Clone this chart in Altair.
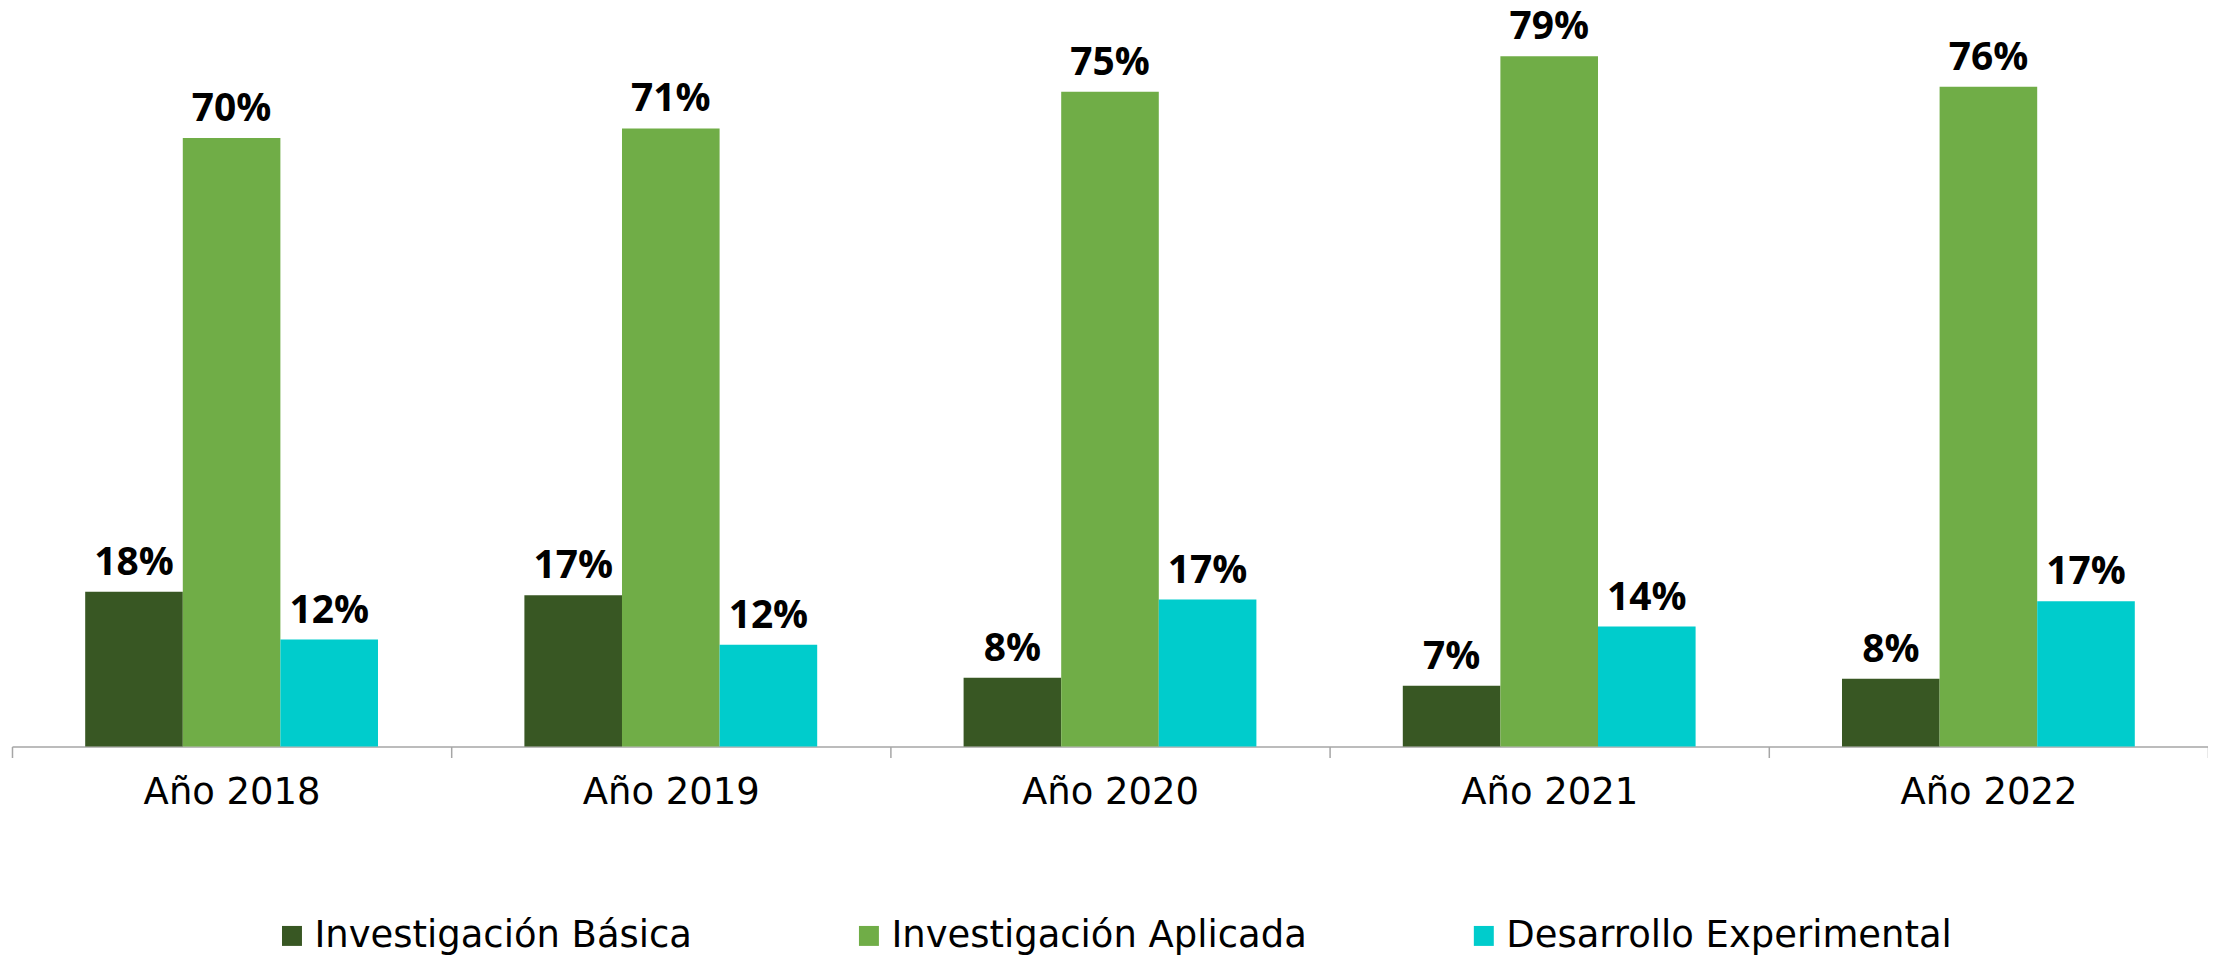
import altair as alt
import pandas as pd

years = ["Año 2018", "Año 2019", "Año 2020", "Año 2021", "Año 2022"]
series = ["Investigación Básica", "Investigación Aplicada", "Desarrollo Experimental"]
basica = [17.8, 17.4, 7.9, 7.0, 7.8]
aplicada = [70.0, 71.1, 75.3, 79.4, 75.9]
experimental = [12.3, 11.7, 16.9, 13.8, 16.7]
colors = ["#385723", "#70AD47", "#00CCCC"]

rows = []
for i, y in enumerate(years):
    for s, vals in zip(series, [basica, aplicada, experimental]):
        rows.append({"year": y, "serie": s, "v": vals[i]})
df = pd.DataFrame(rows)

x_enc = alt.X(
    "year:N",
    sort=years,
    scale=alt.Scale(paddingInner=0, paddingOuter=0),
    axis=alt.Axis(
        title=None,
        labelAngle=0,
        labelFont="DejaVu Sans",
        labelFontSize=37,
        labelColor="#000000",
        labelBaseline="alphabetic",
        labelPadding=46,
        domainColor="#a6a6a6",
        domainWidth=1.5,
        tickColor="#a6a6a6",
        tickWidth=1.5,
        tickSize=11,
        tickBand="extent",
        grid=False,
    ),
)
xoff_enc = alt.XOffset(
    "serie:N", sort=series, scale=alt.Scale(paddingInner=0, paddingOuter=0.75)
)
y_enc = alt.Y("v:Q", scale=alt.Scale(domain=[0, 83.7], nice=False, zero=True), axis=None)

base = alt.Chart(df).encode(x=x_enc, xOffset=xoff_enc, y=y_enc)

bars = base.mark_bar().encode(
    color=alt.Color(
        "serie:N",
        sort=series,
        scale=alt.Scale(domain=series, range=colors),
        legend=alt.Legend(
            title=None,
            orient="none",
            legendX=262,
            legendY=900,
            direction="horizontal",
            symbolType="square",
            symbolSize=400,
            symbolStrokeWidth=0,
            labelFont="DejaVu Sans",
            labelFontSize=37,
            labelColor="#000000",
            labelOffset=4,
            columnPadding=158,
            labelLimit=1000,
        ),
    )
)

labels = base.transform_calculate(
    label="format(datum.v, '.0f') + '%'"
).mark_text(
    font="Open Sans",
    fontWeight="bold",
    fontSize=39,
    color="#000000",
    baseline="alphabetic",
    align="center",
    dy=-17,
).encode(text="label:N")

chart = (
    alt.layer(bars, labels)
    .properties(
        width=2200,
        height=729,
        padding={"left": 4, "top": 10, "right": 0, "bottom": 212},
        autosize=alt.AutoSizeParams(type="none"),
    )
    .configure_view(strokeWidth=0)
)

chart.save("out.html", embed_options={"renderer": "svg", "actions": False})
